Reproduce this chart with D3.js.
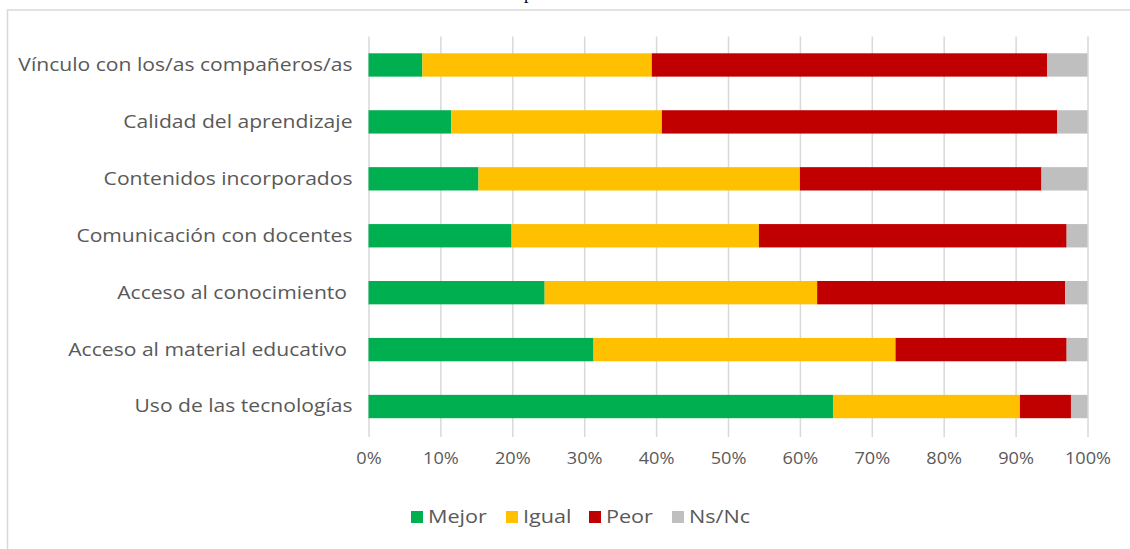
<!DOCTYPE html>
<html>
<head>
<meta charset="utf-8">
<script src="https://cdn.jsdelivr.net/npm/d3@7"></script>
<style>
  html, body { margin: 0; padding: 0; background: #ffffff; }
  svg { display: block; }
  text { white-space: pre; }
</style>
</head>
<body>
<svg id="chart" width="1130" height="549"></svg>
<script>
// ---- data ----
const categories = [
  "Vínculo con los/as compañeros/as",
  "Calidad del aprendizaje",
  "Contenidos incorporados",
  "Comunicación con docentes",
  "Acceso al conocimiento ",
  "Acceso al material educativo ",
  "Uso de las tecnologías"
];
const seriesNames = ["Mejor", "Igual", "Peor", "Ns/Nc"];
const mejor = [7.5, 11.5, 15.3, 19.9, 24.5, 31.3, 64.6];
const igual = [31.9, 29.3, 44.7, 34.4, 37.9, 42.0, 26.0];
const peor  = [55.0, 55.0, 33.6, 42.8, 34.5, 23.8, 7.1];
const nsnc  = [5.6, 4.2, 6.4, 2.9, 3.1, 2.9, 2.3];
const tickValues = [0, 10, 20, 30, 40, 50, 60, 70, 80, 90, 100];
const colors = ["#00B050", "#FFC000", "#C00000", "#BFBFBF"];

// ---- layout ----
const svg = d3.select("#chart");
const plot = { left: 368.5, right: 1087.5, top: 36.5, bottom: 435 };
const textColor = "#595959";
const gridColor = "#d9d9d9";
const font = "'Open Sans', 'DejaVu Sans', sans-serif";

// stretch text horizontally (the reference font is wide)
function stretch(sel, factor) {
  sel.each(function () {
    const w = this.getComputedTextLength();
    d3.select(this)
      .attr("textLength", w * factor)
      .attr("lengthAdjust", "spacingAndGlyphs");
  });
}

// chart frame (extends past the right / bottom edge of the picture)
svg.append("rect")
  .attr("x", 7.5).attr("y", 10)
  .attr("width", 1140).attr("height", 560)
  .attr("fill", "none").attr("stroke", gridColor).attr("stroke-width", 1.5);

// fragment of the document text above the chart
svg.append("text")
  .attr("x", 524).attr("y", -1)
  .attr("font-family", "'Liberation Serif', serif")
  .attr("font-size", 18).attr("fill", "#000")
  .text("p");

const x = d3.scaleLinear().domain([0, 100]).range([plot.left, plot.right]);
const y = d3.scaleBand().domain(categories)
  .range([plot.top, plot.bottom])
  .paddingInner(0.59).paddingOuter(0.295);

// gridlines + tick labels via axis
const xAxis = d3.axisBottom(x)
  .tickValues(tickValues)
  .tickSize(-(plot.bottom - plot.top) - 2)
  .tickFormat(d => d + "%");
const gx = svg.append("g")
  .attr("transform", `translate(0,${plot.bottom + 2})`)
  .call(xAxis);
gx.select(".domain").remove();
gx.selectAll(".tick line").attr("stroke", gridColor).attr("stroke-width", 1.5);
gx.selectAll(".tick text")
  .attr("y", 22).attr("dy", "0.32em")
  .attr("fill", textColor)
  .attr("font-family", font).attr("font-size", 16.5)
  .call(stretch, 1.1);

// stacked bars
const rows = categories.map((c, i) => ({
  cat: c, Mejor: mejor[i], Igual: igual[i], Peor: peor[i], "Ns/Nc": nsnc[i]
}));
const stack = d3.stack().keys(seriesNames)(rows);
svg.append("g").selectAll("g")
  .data(stack).join("g")
  .attr("fill", (d, i) => colors[i])
  .selectAll("rect")
  .data(d => d).join("rect")
  .attr("x", d => x(d[0]))
  .attr("width", d => x(d[1]) - x(d[0]))
  .attr("y", d => y(d.data.cat))
  .attr("height", y.bandwidth());

// category labels
const yAxis = d3.axisLeft(y).tickSize(0).tickPadding(16);
const gy = svg.append("g")
  .attr("transform", `translate(${plot.left},0)`)
  .call(yAxis);
gy.select(".domain").remove();
gy.selectAll(".tick text")
  .attr("fill", textColor)
  .attr("font-family", font).attr("font-size", 18.5)
  .call(stretch, 1.14);

// legend
const legendX = [411, 506, 589, 672];
const legend = svg.append("g");
seriesNames.forEach((name, i) => {
  legend.append("rect")
    .attr("x", legendX[i]).attr("y", 511)
    .attr("width", 12).attr("height", 12)
    .attr("fill", colors[i]);
  legend.append("text")
    .attr("x", legendX[i] + 17).attr("y", 517).attr("dy", "0.35em")
    .attr("fill", textColor)
    .attr("font-family", font).attr("font-size", 18)
    .text(name)
    .call(stretch, 1.2);
});
</script>
</body>
</html>
